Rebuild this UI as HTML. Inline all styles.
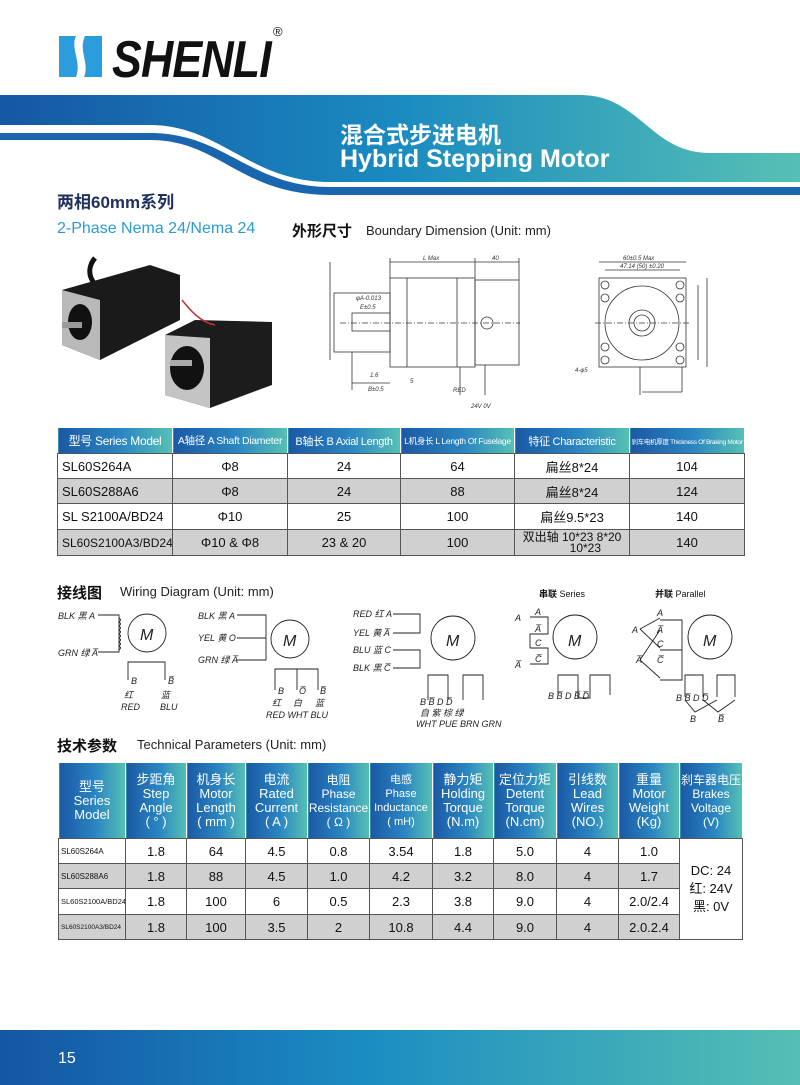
<!DOCTYPE html>
<html><head><meta charset="utf-8">
<style>
*{margin:0;padding:0;box-sizing:border-box}
body{width:800px;height:1085px;position:relative;background:#fff;font-family:"Liberation Sans","Noto Sans CJK SC",sans-serif;overflow:hidden}
.a{position:absolute;white-space:nowrap}
table{border-collapse:collapse;position:absolute;table-layout:fixed}
td{border:1px solid #555;text-align:center;font-size:13px;color:#111;padding:0;overflow:hidden}
.hd td{color:#fff;background:linear-gradient(90deg,#1b59a5,#2a86c2 55%,#57c1b4);border-color:#fff;border-bottom:1px solid #555}
.t1 .hd td{white-space:nowrap;letter-spacing:-0.3px}
.g td.c{background:#d0d0d0}
</style></head><body>

<svg class="a" style="left:0;top:0" width="800" height="1085" viewBox="0 0 800 1085">
<defs>
<linearGradient id="bg" x1="0" x2="1"><stop offset="0" stop-color="#1557a3"/><stop offset="0.5" stop-color="#1a8bc0"/><stop offset="1" stop-color="#57c0b4"/></linearGradient>
<linearGradient id="ft" x1="0" x2="1"><stop offset="0" stop-color="#1556a3"/><stop offset="0.45" stop-color="#1a8cc2"/><stop offset="1" stop-color="#55bfb4"/></linearGradient>
</defs>
<path d="M59,36 L76,36 C70,48 82,62 76,77 L59,77 Z" fill="#2b9ddc"/>
<path d="M85,36 L102,36 L102,77 L84,77 C90,64 78,50 85,36 Z" fill="#2b9ddc"/>
<path d="M0,95 L580,95 C640,95 650,153 710,153 L800,153 L800,182 L330,182 C250,182 220,125 150,125 L0,125 Z" fill="url(#bg)"/>
<path d="M0,133 L150,133 C225,133 250,187 330,187 L800,187 L800,195 L330,195 C240,195 220,140 150,140 L0,140 Z" fill="#1a66ae"/>
<rect x="0" y="1030" width="800" height="55" fill="url(#ft)"/>

<g>
<path d="M95,258 C85,270 90,285 105,290" stroke="#111" stroke-width="5" fill="none"/>
<polygon points="62,290 150,265 180,275 180,320 100,360 62,345" fill="#1a1a1a"/>
<polygon points="62,290 100,300 100,360 62,345" fill="#b9b9b9"/>
<ellipse cx="80" cy="322" rx="12" ry="18" fill="#111"/>
<rect x="62" y="322" width="20" height="6" fill="#999"/>
<polygon points="165,335 195,320 272,322 272,385 210,408 165,395" fill="#1c1c1c"/>
<polygon points="165,335 210,338 210,408 165,395" fill="#c4c4c4"/>
<ellipse cx="187" cy="368" rx="17" ry="22" fill="#111"/>
<rect x="170" y="360" width="22" height="6" fill="#aaa"/>
<path d="M182,300 C190,310 200,322 215,325" stroke="#b33" stroke-width="1.5" fill="none"/>
</g>

<g stroke="#333" stroke-width="0.8" fill="none">
<rect x="390" y="278" width="85" height="89"/>
<rect x="475" y="280" width="44" height="85"/>
<line x1="407" y1="278" x2="407" y2="367"/>
<line x1="457" y1="278" x2="457" y2="367"/>
<rect x="334" y="293" width="56" height="59"/>
<rect x="352" y="313" width="38" height="18"/>
<line x1="340" y1="323" x2="520" y2="323" stroke-dasharray="6,2,1,2"/>
<circle cx="487" cy="323" r="6"/>
<line x1="390" y1="262" x2="475" y2="262"/><line x1="475" y1="262" x2="519" y2="262"/>
<line x1="390" y1="258" x2="390" y2="278"/><line x1="475" y1="258" x2="475" y2="278"/><line x1="519" y1="258" x2="519" y2="280"/>
<line x1="352" y1="383" x2="390" y2="383"/><line x1="352" y1="352" x2="352" y2="390"/>
<line x1="330" y1="262" x2="330" y2="360"/>
<line x1="460" y1="367" x2="460" y2="395"/><line x1="485" y1="365" x2="485" y2="395"/>
<line x1="640" y1="367" x2="640" y2="395"/>
</g>
<g font-size="6" fill="#333" font-style="italic">
<text x="423" y="260">L Max</text><text x="492" y="260">40</text>
<text x="356" y="300">φA-0.013</text><text x="360" y="309">E±0.5</text>
<text x="370" y="377">1.6</text><text x="410" y="383">5</text><text x="368" y="391">B±0.5</text>
<text x="453" y="392">RED</text><text x="471" y="408">24V 0V</text>
</g>
<g stroke="#333" stroke-width="0.8" fill="none">
<rect x="599" y="278" width="87" height="89"/>
<circle cx="642" cy="323" r="37"/><circle cx="642" cy="323" r="13"/><circle cx="642" cy="323" r="8"/>
<circle cx="605" cy="285" r="4"/><circle cx="680" cy="285" r="4"/><circle cx="605" cy="360" r="4"/><circle cx="680" cy="360" r="4"/>
<circle cx="605" cy="298" r="4"/><circle cx="680" cy="298" r="4"/><circle cx="605" cy="347" r="4"/><circle cx="680" cy="347" r="4"/>
<line x1="595" y1="323" x2="690" y2="323" stroke-dasharray="6,2,1,2"/>
<line x1="599" y1="262" x2="686" y2="262"/><line x1="605" y1="270" x2="680" y2="270"/>
<line x1="698" y1="285" x2="698" y2="360"/><line x1="707" y1="278" x2="707" y2="367"/>
<line x1="682" y1="392" x2="642" y2="392"/><line x1="682" y1="367" x2="682" y2="392"/>
</g>
<g font-size="6" fill="#333" font-style="italic">
<text x="623" y="260">60±0.5 Max</text><text x="620" y="268">47.14 (50) ±0.20</text>
<text x="575" y="372">4-φ5</text>
</g>

<g stroke="#222" stroke-width="0.9" fill="none">
<path d="M98,615 H119 V652 H98"/><path d="M119,618 q3,2 0,4 q3,2 0,4 q3,2 0,4 q3,2 0,4 q3,2 0,4 q3,2 0,4 q3,2 0,4 q3,2 0,4"/>
<circle cx="147" cy="633" r="19"/>
<path d="M128,680 V662 H165 V680"/>
<path d="M237,615 H266 V660 H237 M237,638 H266"/>
<circle cx="290" cy="639" r="19"/>
<path d="M275,690 V669 H318 V690 M297,669 V690"/>
<path d="M393,614 H420 V633 H393 M393,650 H420 V668 H393"/>
<circle cx="453" cy="638" r="22"/>
<path d="M428,700 V675 H448 V700 M463,700 V675 H483 V700"/>
<path d="M530,617 H548 V634 H530 V648 M530,648 H548 V664 H530"/>
<circle cx="575" cy="637" r="22"/>
<path d="M558,695 V675 H578 V698 H590 V675 H610 V695"/>
<path d="M660,620 H682 V658 M660,650 H682 M660,680 H682 V650 M640,629 L660,618 M640,629 L660,648 M640,660 L660,630 M640,660 L660,678"/>
<circle cx="710" cy="637" r="22"/>
<path d="M685,697 V675 H703 V697 M717,697 V675 H735 V697 M685,700 L695,712 L717,700 M703,700 L718,712 L735,700"/>
</g>
<g font-size="9" fill="#222" font-style="italic" font-family="Liberation Sans,Noto Sans CJK SC,sans-serif">
<text x="58" y="619">BLK 黑 A</text><text x="58" y="656">GRN 绿 A̅</text>
<text x="140" y="640" font-size="16" font-style="italic">M</text>
<text x="131" y="684">B</text><text x="168" y="684">B̅</text>
<text x="124" y="698">红</text><text x="161" y="698">蓝</text>
<text x="121" y="710">RED</text><text x="160" y="710">BLU</text>
<text x="198" y="619">BLK 黑 A</text><text x="198" y="641">YEL 黄 O</text><text x="198" y="663">GRN 绿 A̅</text>
<text x="283" y="646" font-size="16">M</text>
<text x="278" y="694">B</text><text x="299" y="694">O̅</text><text x="320" y="694">B̅</text>
<text x="272" y="706">红</text><text x="293" y="706">白</text><text x="315" y="706">蓝</text>
<text x="266" y="718">RED WHT BLU</text>
<text x="353" y="617">RED 红 A</text><text x="353" y="636">YEL 黄 A̅</text><text x="353" y="653">BLU 蓝 C</text><text x="353" y="671">BLK 黑 C̅</text>
<text x="446" y="646" font-size="16">M</text>
<text x="420" y="705">B   B̅   D   D̅</text>
<text x="420" y="716">自  紫  棕  绿</text>
<text x="416" y="727">WHT PUE BRN GRN</text>
<text x="515" y="621">A</text><text x="515" y="668">A̅</text>
<text x="535" y="615">A</text><text x="535" y="632">A̅</text><text x="535" y="646">C</text><text x="535" y="662">C̅</text>
<text x="568" y="646" font-size="16">M</text>
<text x="548" y="699">B B̅   D B̅ D̅</text>
<text x="632" y="633">A</text><text x="636" y="663">A̅</text>
<text x="657" y="616">A</text><text x="657" y="633">A̅</text><text x="657" y="647">C</text><text x="657" y="663">C̅</text>
<text x="703" y="646" font-size="16">M</text>
<text x="676" y="701">B  B̅ D  D̅</text><text x="690" y="722">B</text><text x="718" y="722">B̅</text>
</g>
</svg>

<div class="a" style="left:112px;top:30px;font-size:52px;font-weight:bold;font-style:italic;letter-spacing:-1px;transform:scaleX(0.86);transform-origin:0 0;color:#111">SHENLI</div>
<div class="a" style="left:273px;top:24px;font-size:13px;color:#111">®</div>

<div class="a" style="left:340px;top:116px;font-size:23px;font-weight:bold;color:#fff">混合式步进电机</div>
<div class="a" style="left:340px;top:145px;font-size:25px;font-weight:bold;color:#fff">Hybrid Stepping Motor</div>

<div class="a" style="left:57px;top:188px;font-size:17px;font-weight:bold;color:#1f2f5e">两相60mm系列</div>
<div class="a" style="left:57px;top:220px;font-size:16px;color:#2a9bd8">2-Phase Nema 24/Nema 24</div>
<div class="a" style="left:292px;top:220px;font-size:15px;font-weight:bold;color:#111">外形尺寸</div>
<div class="a" style="left:366px;top:223px;font-size:13px;color:#222">Boundary Dimension (Unit: mm)</div>

<table class="t1" style="left:57px;top:427px;width:687px">
<colgroup><col style="width:115px"><col style="width:115px"><col style="width:113px"><col style="width:114px"><col style="width:115px"><col style="width:115px"></colgroup>
<tr class="hd" style="height:26px"><td style="font-size:12px">型号 Series Model</td><td style="font-size:10.5px">A轴径 A Shaft Diameter</td><td style="font-size:11px">B轴长 B Axial Length</td><td style="font-size:8.5px">L机身长 L Length Of Fuselage</td><td style="font-size:11px">特征 Characteristic</td><td style="font-size:6.5px">刹车电机厚度 Thickness Of Braking Motor</td></tr>
<tr style="height:25px"><td style="text-align:left;padding-left:4px">SL60S264A</td><td>Φ8</td><td>24</td><td>64</td><td>扁丝8*24</td><td>104</td></tr>
<tr class="g" style="height:25px"><td class="c" style="text-align:left;padding-left:4px">SL60S288A6</td><td class="c">Φ8</td><td class="c">24</td><td class="c">88</td><td class="c">扁丝8*24</td><td class="c">124</td></tr>
<tr style="height:26px"><td style="text-align:left;padding-left:4px">SL S2100A/BD24</td><td>Φ10</td><td>25</td><td>100</td><td>扁丝9.5*23</td><td>140</td></tr>
<tr class="g" style="height:26px"><td class="c" style="text-align:left;padding-left:4px;font-size:12px">SL60S2100A3/BD24</td><td class="c">Φ10 &amp; Φ8</td><td class="c">23 &amp; 20</td><td class="c">100</td><td class="c" style="line-height:11px;font-size:12px;white-space:nowrap">双出轴 10*23 8*20<br>&nbsp;&nbsp;&nbsp;&nbsp;&nbsp;&nbsp;&nbsp;&nbsp;10*23</td><td class="c">140</td></tr>
</table>

<div class="a" style="left:57px;top:582px;font-size:15px;font-weight:bold;color:#111">接线图</div>
<div class="a" style="left:120px;top:584px;font-size:13px;color:#222">Wiring Diagram (Unit: mm)</div>
<div class="a" style="left:539px;top:587px;font-size:9px;color:#111"><b>串联</b> Series</div>
<div class="a" style="left:655px;top:587px;font-size:9px;color:#111"><b>并联</b> Parallel</div>

<div class="a" style="left:57px;top:735px;font-size:15px;font-weight:bold;color:#111">技术参数</div>
<div class="a" style="left:137px;top:737px;font-size:13px;color:#222">Technical Parameters (Unit: mm)</div>

<table style="left:58px;top:762px;width:684px">
<colgroup><col style="width:67px"><col style="width:61px"><col style="width:59px"><col style="width:62px"><col style="width:62px"><col style="width:63px"><col style="width:61px"><col style="width:63px"><col style="width:62px"><col style="width:61px"><col style="width:63px"></colgroup>
<tr class="hd" style="height:76px;line-height:14px"><td style="font-size:13px">型号<br>Series<br>Model</td><td>步距角<br>Step<br>Angle<br>( °  )</td><td>机身长<br>Motor<br>Length<br>( mm )</td><td>电流<br>Rated<br>Current<br>( A )</td><td style="font-size:12px">电阻<br>Phase<br>Resistance<br>( Ω )</td><td style="font-size:11px">电感<br>Phase<br>Inductance<br>( mH)</td><td>静力矩<br>Holding<br>Torque<br>(N.m)</td><td>定位力矩<br>Detent<br>Torque<br>(N.cm)</td><td>引线数<br>Lead<br>Wires<br>(NO.)</td><td>重量<br>Motor<br>Weight<br>(Kg)</td><td style="font-size:12px">刹车器电压<br>Brakes<br>Voltage<br>(V)</td></tr>
<tr style="height:25px"><td style="font-size:8px;text-align:left;padding-left:2px">SL60S264A</td><td>1.8</td><td>64</td><td>4.5</td><td>0.8</td><td>3.54</td><td>1.8</td><td>5.0</td><td>4</td><td>1.0</td><td rowspan="4" style="line-height:18px">DC: 24<br>红: 24V<br>黑: 0V</td></tr>
<tr class="g" style="height:25px"><td class="c" style="font-size:8px;text-align:left;padding-left:2px">SL60S288A6</td><td class="c">1.8</td><td class="c">88</td><td class="c">4.5</td><td class="c">1.0</td><td class="c">4.2</td><td class="c">3.2</td><td class="c">8.0</td><td class="c">4</td><td class="c">1.7</td></tr>
<tr style="height:26px"><td style="font-size:7.5px;text-align:left;padding-left:2px">SL60S2100A/BD24</td><td>1.8</td><td>100</td><td>6</td><td>0.5</td><td>2.3</td><td>3.8</td><td>9.0</td><td>4</td><td>2.0/2.4</td></tr>
<tr class="g" style="height:25px"><td class="c" style="font-size:6.5px;text-align:left;padding-left:2px">SL60S2100A3/BD24</td><td class="c">1.8</td><td class="c">100</td><td class="c">3.5</td><td class="c">2</td><td class="c">10.8</td><td class="c">4.4</td><td class="c">9.0</td><td class="c">4</td><td class="c">2.0.2.4</td></tr>
</table>

<div class="a" style="left:58px;top:1050px;font-size:16px;color:#fff">15</div>
</body></html>
